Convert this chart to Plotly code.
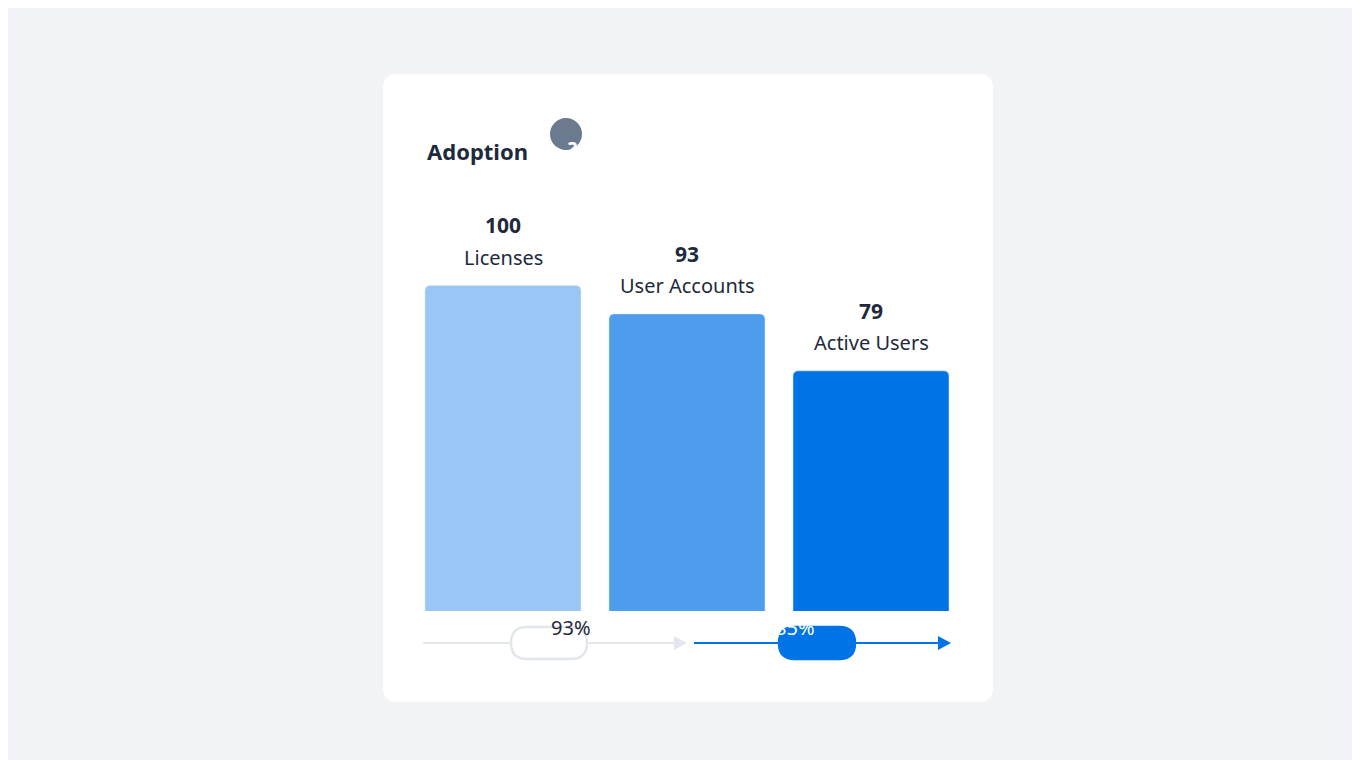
import plotly.graph_objects as go

categories = ["Licenses", "User Accounts", "Active Users"]
values = [100, 93, 79]
bar_colors = ["#9AC6F6", "#4D9DEC", "#0073E6"]

W, H = 1360, 760
L, R, T, B = 403, 955, 196, 603
FONT = "Noto Sans"
DARK = "#1E2A3B"


def px(x):
    return (x - L) / (R - L)


def py(y):
    return (B - y) / (B - T)


def rounded(x0, y0, x1, y1, r):
    # pixel rect -> paper path with rounded corners
    a, b, c, d = px(x0), py(y0), px(x1), py(y1)
    rx, ry = r / (R - L), r / (B - T)
    return (f"M{a+rx},{b} L{c-rx},{b} Q{c},{b} {c},{b-ry} L{c},{d+ry} Q{c},{d} {c-rx},{d} "
            f"L{a+rx},{d} Q{a},{d} {a},{d+ry} L{a},{b-ry} Q{a},{b} {a+rx},{b} Z")


fig = go.Figure(go.Bar(x=categories, y=values, marker_color=bar_colors,
                       width=0.848, hoverinfo="skip"))

shapes = [dict(type="path", path=rounded(375, 66, 985, 694, 14), xref="paper", yref="paper",
               fillcolor="white", line_width=0, layer="below")]
annotations = []

for c, v in zip(categories, values):
    annotations.append(dict(x=c, y=v, text=f"<b>{v}</b>", showarrow=False, yshift=60,
                            font=dict(size=21, color=DARK, family=FONT)))
    annotations.append(dict(x=c, y=v, text=c, showarrow=False, yshift=28,
                            font=dict(size=20, color=DARK, family=FONT)))

# title + help icon
annotations.append(dict(x=px(417), y=py(126), xref="paper", yref="paper", xanchor="left",
                        text="<b>Adoption</b>", showarrow=False,
                        font=dict(size=22, color=DARK, family=FONT)))
shapes.append(dict(type="circle", xref="paper", yref="paper", x0=px(542), x1=px(574),
                   y0=py(142), y1=py(110), fillcolor="#6B7A8F", line_width=0))
annotations.append(dict(x=px(558), y=py(126), xref="paper", yref="paper", text="<b>?</b>",
                        showarrow=False, font=dict(size=19, color="white", family=FONT)))

# conversion arrows
rates = [round(values[1] / values[0] * 100), round(values[2] / values[1] * 100)]
segs = [(415, 679, 541, "#E3E7ED", "white", "#E3E7ED", DARK),
        (686, 943, 809, "#0073E6", "#0073E6", "#0073E6", "white")]
for (x0, x1, cx, lc, fill, border, tc), r in zip(segs, rates):
    shapes.append(dict(type="line", xref="paper", yref="paper", x0=px(x0), x1=px(x1 - 10),
                       y0=py(635), y1=py(635), line=dict(color=lc, width=2)))
    shapes.append(dict(type="path", xref="paper", yref="paper", fillcolor=lc, line_width=0,
                       path=f"M{px(x1-13)},{py(628)} L{px(x1)},{py(635)} L{px(x1-13)},{py(642)} Z"))
    shapes.append(dict(type="path", xref="paper", yref="paper", fillcolor=fill,
                       line=dict(color=border, width=2.5),
                       path=rounded(cx - 38, 619, cx + 38, 651, 16)))
    annotations.append(dict(x=px(cx), y=py(635), xref="paper", yref="paper", text=f"{r}%",
                            showarrow=False, font=dict(size=20, color=tc, family=FONT)))

fig.update_layout(
    width=W, height=H, margin=dict(l=L, r=W - R, t=T, b=H - B),
    paper_bgcolor="#F1F3F6", plot_bgcolor="rgba(0,0,0,0)",
    barcornerradius=5, showlegend=False,
    xaxis=dict(visible=False, range=[-0.5, 2.5]),
    yaxis=dict(visible=False, range=[20, 120]),
    shapes=shapes, annotations=annotations,
)
fig.write_html("out.html")
